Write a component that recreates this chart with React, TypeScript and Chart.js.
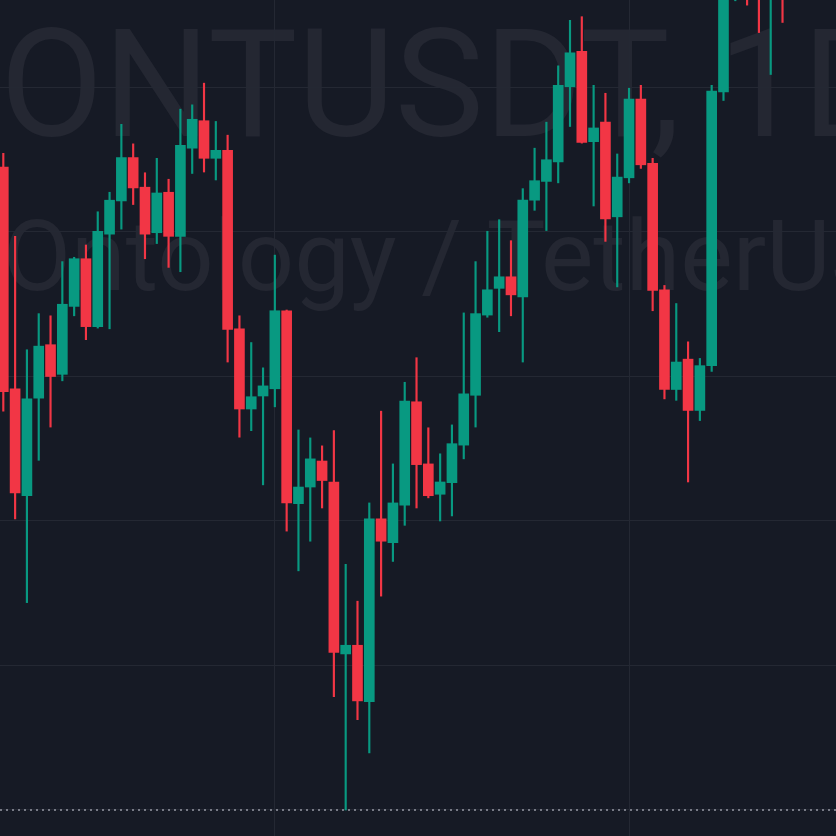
import React, { useEffect, useRef } from "react";
import { Chart, registerables } from "chart.js";

Chart.register(...registerables);

// ---- data (ONTUSDT, 1D) ----
const startDate = "2023-10-09";
const opens = [
  0.2890, 0.2583, 0.2435, 0.2570, 0.2644, 0.2603, 0.2697, 0.2763, 0.2669, 0.2797,
  0.2843, 0.2903, 0.2862, 0.2799, 0.2855, 0.2794, 0.2916, 0.2954, 0.2902, 0.2913,
  0.2666, 0.2555, 0.2573, 0.2583, 0.2691, 0.2424, 0.2447, 0.2483, 0.2454, 0.2216,
  0.2228, 0.2150, 0.2403, 0.2370, 0.2422, 0.2565, 0.2479, 0.2437, 0.2453, 0.2505,
  0.2574, 0.2685, 0.2722, 0.2738, 0.2710, 0.2844, 0.2870, 0.2897, 0.3001, 0.3050,
  0.2925, 0.2952, 0.2821, 0.2875, 0.2984, 0.2895, 0.2720, 0.2582, 0.2624, 0.2553,
  0.2615, 0.2994, 0.3170, 0.3260, 0.3220, 0.3165, 0.3210,
];
const highs = [
  0.2909, 0.2794, 0.2637, 0.2687, 0.2684, 0.2759, 0.2765, 0.2782, 0.2828, 0.2855,
  0.2949, 0.2922, 0.2882, 0.2902, 0.2873, 0.2970, 0.2976, 0.3006, 0.2953, 0.2934,
  0.2684, 0.2647, 0.2612, 0.2768, 0.2692, 0.2526, 0.2515, 0.2504, 0.2525, 0.2340,
  0.2289, 0.2425, 0.2552, 0.2479, 0.2592, 0.2626, 0.2529, 0.2493, 0.2533, 0.2688,
  0.2759, 0.2801, 0.2817, 0.2788, 0.2860, 0.2916, 0.2952, 0.3030, 0.3093, 0.3098,
  0.3003, 0.2992, 0.2908, 0.2999, 0.3003, 0.2902, 0.2726, 0.2701, 0.2648, 0.2625,
  0.3003, 0.3204, 0.3260, 0.3280, 0.3240, 0.3230, 0.3230,
];
const lows = [
  0.2552, 0.2403, 0.2287, 0.2484, 0.2530, 0.2594, 0.2684, 0.2651, 0.2667, 0.2666,
  0.2804, 0.2838, 0.2763, 0.2784, 0.2751, 0.2745, 0.2881, 0.2883, 0.2872, 0.2620,
  0.2516, 0.2525, 0.2450, 0.2558, 0.2386, 0.2331, 0.2372, 0.2418, 0.2157, 0.2000,
  0.2125, 0.2079, 0.2296, 0.2344, 0.2394, 0.2418, 0.2432, 0.2400, 0.2407, 0.2486,
  0.2530, 0.2682, 0.2662, 0.2684, 0.2620, 0.2830, 0.2802, 0.2868, 0.2946, 0.2923,
  0.2836, 0.2787, 0.2724, 0.2868, 0.2888, 0.2691, 0.2569, 0.2567, 0.2454, 0.2539,
  0.2607, 0.2982, 0.3120, 0.3114, 0.3076, 0.3018, 0.3090,
];
const closes = [
  0.2579, 0.2439, 0.2569, 0.2642, 0.2600, 0.2700, 0.2763, 0.2669, 0.2801, 0.2844,
  0.2903, 0.2861, 0.2797, 0.2854, 0.2794, 0.2920, 0.2956, 0.2902, 0.2913, 0.2665,
  0.2555, 0.2572, 0.2587, 0.2691, 0.2425, 0.2447, 0.2486, 0.2456, 0.2218, 0.2228,
  0.2151, 0.2403, 0.2372, 0.2425, 0.2566, 0.2478, 0.2435, 0.2454, 0.2507, 0.2576,
  0.2687, 0.2720, 0.2738, 0.2713, 0.2844, 0.2871, 0.2900, 0.3003, 0.3048, 0.2924,
  0.2944, 0.2818, 0.2876, 0.2984, 0.2893, 0.2719, 0.2582, 0.2620, 0.2553, 0.2615,
  0.2995, 0.3176, 0.3230, 0.3190, 0.3160, 0.3200, 0.3140,
];
const priceGridLevels = [0.2, 0.22, 0.24, 0.26, 0.28, 0.3];
const watermarkSymbol = "ONTUSDT";
const watermarkSeparator = ",";
const watermarkInterval = "1D";
const watermarkName = "Ontology / TetherUS";

const UP = "#089981";
const DOWN = "#F23645";
const BG = "#161A25";
const GRID = "#242833";
const WATERMARK = "rgb(36,39,50)";

const SIZE = 836;
const X_MIN = -0.28;
const X_MAX = 70.53;
const Y_MIN = 0.1964;
const Y_MAX = 0.31211;

function buildDates(): string[] {
  const out: string[] = [];
  const d = new Date(startDate + "T00:00:00Z");
  for (let i = 0; i < opens.length; i++) {
    out.push(d.toISOString().slice(0, 10));
    d.setUTCDate(d.getUTCDate() + 1);
  }
  return out;
}

// draw text so that its ink starts at inkLeft
function drawInk(ctx: CanvasRenderingContext2D, text: string, inkLeft: number, baseline: number) {
  const m = ctx.measureText(text);
  ctx.fillText(text, inkLeft + (m.actualBoundingBoxLeft || 0), baseline);
}

export default function App() {
  const ref = useRef<HTMLCanvasElement | null>(null);

  useEffect(() => {
    document.body.style.margin = "0";
    document.body.style.background = BG;
    const canvas = ref.current;
    if (!canvas) return;
    const dates = buildDates();
    const monthStarts = dates
      .map((d, i) => (d.endsWith("-01") ? i : -1))
      .filter((i) => i >= 0);
    const colors = opens.map((o, i) => (closes[i] >= o ? UP : DOWN));
    const minLow = Math.min(...lows);

    const watermark = {
      id: "watermark",
      beforeDraw(chart: any) {
        const ctx = chart.ctx as CanvasRenderingContext2D;
        ctx.save();
        ctx.fillStyle = BG;
        ctx.fillRect(0, 0, chart.width, chart.height);
        ctx.fillStyle = WATERMARK;
        ctx.textBaseline = "alphabetic";
        ctx.textAlign = "left";
        ctx.font = "400 150px Roboto";
        drawInk(ctx, watermarkSymbol, 8, 136);
        drawInk(ctx, watermarkSeparator, 653, 136);
        drawInk(ctx, watermarkInterval, 730, 136);
        ctx.font = "400 99px Roboto";
        drawInk(ctx, watermarkName, 8, 290);
        ctx.restore();
      },
    };

    const chart = new Chart(canvas, {
      type: "bar",
      data: {
        labels: dates,
        datasets: [
          {
            type: "line",
            label: "low",
            data: [
              { x: X_MIN, y: minLow },
              { x: X_MAX, y: minLow },
            ],
            borderColor: "#787B86",
            borderWidth: 2,
            borderDash: [2, 4],
            pointRadius: 0,
            order: -1,
          } as any,
          {
            label: "body",
            data: opens.map((o, i) => ({ x: i, y: [o, closes[i]] })),
            backgroundColor: colors,
            borderWidth: 0,
            borderSkipped: false,
            barThickness: 10,
            grouped: false,
            order: 0,
          } as any,
          {
            label: "wick",
            data: lows.map((l, i) => ({ x: i, y: [l, highs[i]] })),
            backgroundColor: colors,
            borderWidth: 0,
            borderSkipped: false,
            barThickness: 1.5,
            grouped: false,
            order: 1,
          } as any,
        ],
      },
      options: {
        animation: false,
        responsive: false,
        events: [],
        layout: { padding: 0 },
        plugins: { legend: { display: false }, tooltip: { enabled: false } },
        scales: {
          x: {
            type: "linear",
            min: X_MIN,
            max: X_MAX,
            offset: false,
            afterBuildTicks: (axis: any) => {
              axis.ticks = monthStarts.map((v) => ({ value: v }));
            },
            ticks: { display: false },
            grid: { color: GRID, drawTicks: false, lineWidth: 1, offset: false },
            border: { display: false },
          },
          y: {
            type: "linear",
            min: Y_MIN,
            max: Y_MAX,
            afterBuildTicks: (axis: any) => {
              axis.ticks = priceGridLevels.map((v) => ({ value: v }));
            },
            ticks: { display: false },
            grid: { color: GRID, drawTicks: false, lineWidth: 1, offset: false },
            border: { display: false },
          },
        },
      } as any,
      plugins: [watermark],
    });
    return () => chart.destroy();
  }, []);

  return (
    <div style={{ width: SIZE, height: SIZE, background: BG }}>
      <canvas ref={ref} width={SIZE} height={SIZE} style={{ display: "block" }} />
    </div>
  );
}
